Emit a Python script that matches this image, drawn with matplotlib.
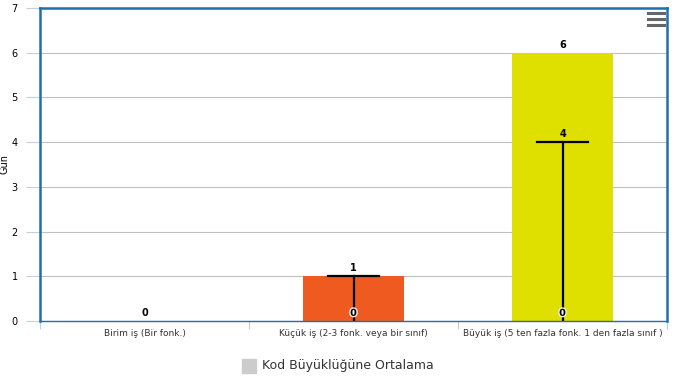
import matplotlib.pyplot as plt
import matplotlib.patheffects as pe
from matplotlib.patches import Rectangle
from matplotlib.lines import Line2D

categories = ["Birim iş (Bir fonk.)", "Küçük iş (2-3 fonk. veya bir sınıf)",
              "Büyük iş (5 ten fazla fonk. 1 den fazla sınıf )"]
values = [0, 1, 6]
err_low = [None, 0, 0]
err_high = [None, 1, 4]
colors = ["#cccccc", "#ee5a1f", "#dfe000"]
blue = "#1f6fb0"

fig = plt.figure(figsize=(6.77, 3.85), dpi=100)
ax = fig.add_axes([40 / 677, 64 / 385, 627 / 677, 313 / 385])

x = list(range(len(categories)))
ax.bar(x, values, width=0.48, color=colors, zorder=2)

for i, v in enumerate(values):
    ax.text(i, v + 0.07, str(v), ha="center", va="bottom", fontsize=7,
            fontweight="bold", color="black", zorder=5)
    if err_low[i] is not None:
        ax.plot([i, i], [err_low[i], err_high[i]], color="black", lw=1.6, zorder=4)
        ax.plot([i - 0.12, i + 0.12], [err_high[i], err_high[i]], color="black",
                lw=1.6, zorder=4)
        if err_high[i] != v:
            ax.text(i, err_high[i] + 0.07, str(err_high[i]), ha="center",
                    va="bottom", fontsize=7, fontweight="bold", zorder=5)
        ax.text(i, err_low[i] + 0.07, str(err_low[i]), ha="center", va="bottom",
                fontsize=7, fontweight="bold", color="black", zorder=5,
                path_effects=[pe.withStroke(linewidth=2, foreground="#f0f0f0")])

ax.set_xlim(-0.5, 2.5)
ax.set_ylim(0, 7)
ax.set_yticks(range(8))
ax.yaxis.grid(True, color="#c0c0c0", lw=0.8, zorder=0)
ax.set_axisbelow(True)
ax.tick_params(axis="y", labelsize=7, length=10, color="#c0d0e0", width=0.8, pad=6)
ax.set_xticks(x)
ax.set_xticklabels(categories, fontsize=6.5, color="#333333")
ax.tick_params(axis="x", length=0, pad=6)
ax.set_xticks([-0.5, 0.5, 1.5, 2.5], minor=True)
ax.tick_params(axis="x", which="minor", length=6, color="#c0d0e0", width=0.8)
ax.set_ylabel("Gün", fontsize=7)
ax.yaxis.set_label_coords(-30 / 627, 0.5)

for s in ax.spines.values():
    s.set_color(blue)
    s.set_linewidth(1.8)
ax.spines["bottom"].set_linewidth(1.0)

# legend
fig.patches.append(Rectangle((242 / 677, (385 - 373) / 385), 14 / 677, 14 / 385,
                             transform=fig.transFigure, color="#cccccc"))
fig.text(262 / 677, (385 - 366) / 385, "Kod Büyüklüğüne Ortalama", fontsize=9,
         color="#333333", va="center")

# menu icon
for yy in [13, 19, 25]:
    fig.lines.append(Line2D([648 / 677, 664 / 677], [(385 - yy) / 385] * 2,
                            transform=fig.transFigure, color="#666666", lw=2.2))

fig.savefig("out.png", dpi=100)
